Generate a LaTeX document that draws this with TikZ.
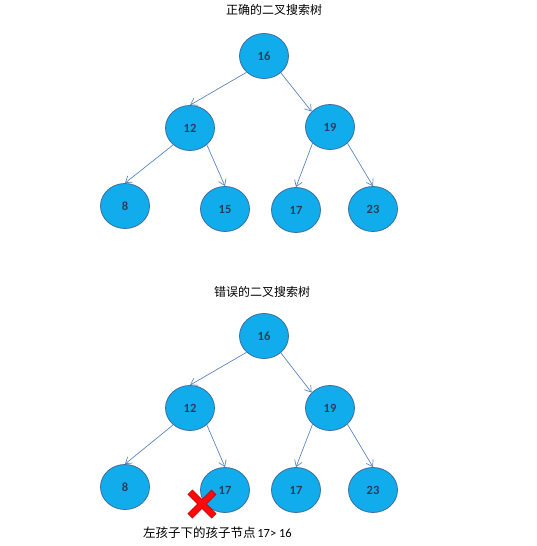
\documentclass[tikz,border=0pt]{standalone}
\usepackage{fontspec}
\setmainfont{Carlito}
\newfontfamily\cjk{Noto Sans CJK SC}
\usetikzlibrary{shapes.geometric,arrows.meta}
\definecolor{nodefill}{RGB}{16,172,236}
\definecolor{nodeline}{RGB}{62,110,160}
\definecolor{nodetext}{RGB}{40,62,92}
\definecolor{edgecol}{RGB}{90,135,195}
\definecolor{crossred}{RGB}{255,10,10}
\definecolor{crossdark}{RGB}{190,0,0}
\tikzset{
  bst/.style={ellipse, draw=nodeline, line width=0.8pt, fill=nodefill,
    minimum width=49pt, minimum height=45pt, inner sep=0pt,
    font=\fontsize{12.5}{14}\selectfont\bfseries, text=nodetext},
  edge/.style={draw=edgecol, line width=0.7pt,
    -{Straight Barb[length=6pt,width=8pt,line width=0.7pt]}},
  title/.style={font=\cjk\fontsize{12}{14}\selectfont, text=black, inner sep=0pt}
}
\begin{document}
\begin{tikzpicture}[x=1pt,y=-1pt]
\useasboundingbox (0,0) rectangle (537,546);
% ---------- correct tree ----------
\node[title] (t1) at (274,10) {正确的二叉搜索树};
\node[bst] (a16) at (264,56) {16};
\node[bst] (a12) at (190,128) {12};
\node[bst] (a19) at (330,127) {19};
\node[bst] (a8)  at (125,206) {8};
\node[bst] (a15) at (225,209) {15};
\node[bst] (a17) at (296,210) {17};
\node[bst] (a23) at (373,209) {23};
\draw[edge] (a16.223) -- (a12.north);
\draw[edge] (a16.315) -- (a19.140);
\draw[edge] (a12.225) -- (a8.north);
\draw[edge] (a12.315) -- (a15.north);
\draw[edge] (a19.223) -- (a17.north);
\draw[edge] (a19.317) -- (a23.north);
% ---------- wrong tree ----------
\node[title] (t2) at (262,292) {错误的二叉搜索树};
\node[bst] (b16) at (264,336) {16};
\node[bst] (b12) at (190,408) {12};
\node[bst] (b19) at (330,408) {19};
\node[bst] (b8)  at (125,487) {8};
\node[bst] (b17w) at (225,490) {17};
\node[bst] (b17) at (296,490) {17};
\node[bst] (b23) at (373,490) {23};
\draw[edge] (b16.223) -- (b12.north);
\draw[edge] (b16.315) -- (b19.140);
\draw[edge] (b12.225) -- (b8.north);
\draw[edge] (b12.315) -- (b17w.north);
\draw[edge] (b19.223) -- (b17.north);
\draw[edge] (b19.317) -- (b23.north);
% red cross
\coordinate (x1) at (190,492); \coordinate (x2) at (214,516);
\coordinate (x3) at (214,492); \coordinate (x4) at (190,516);
\draw[crossdark, line width=7pt] (x1) -- (x2) (x3) -- (x4);
\draw[crossred, line width=5.4pt, shorten <=0.8pt, shorten >=0.8pt] (x1) -- (x2) (x3) -- (x4);
% note
\node[anchor=west, inner sep=0pt] (note) at (143,533)
  {{\cjk\fontsize{12.5}{14}\selectfont 左孩子下的孩子节点}\,{\fontsize{12.5}{14}\selectfont 17> 16}};
\end{tikzpicture}
\end{document}
